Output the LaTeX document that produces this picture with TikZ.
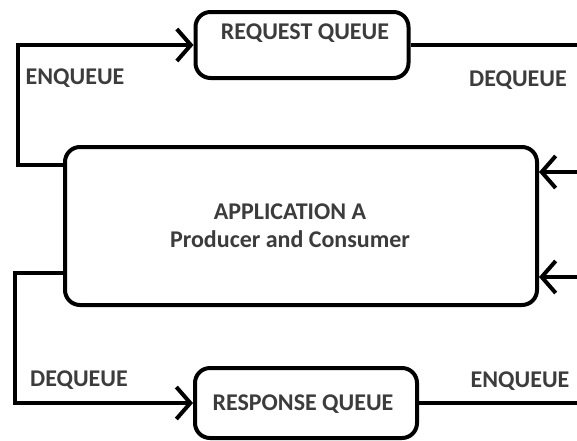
\documentclass[tikz,border=0pt]{standalone}
\usepackage{fontspec}
\setmainfont{Carlito}
\usetikzlibrary{arrows.meta}
\definecolor{txt}{HTML}{3C3C3C}
\tikzset{
  box/.style={draw=black, line width=4pt, rounded corners=15pt, fill=white},
  conn/.style={draw=black, line width=4pt},
  arr/.style={conn, -{Straight Barb[length=14pt,width=32pt,line width=4pt]}},
  lbl/.style={text=txt, font=\fontsize{24}{28}\selectfont\bfseries, inner sep=0pt},
}
\begin{document}
\begin{tikzpicture}[x=1pt,y=-1pt]
\useasboundingbox (0,0) rectangle (577,440);
\begin{scope}
\clip (0,0) rectangle (577,440);
\node[box, minimum width=213pt, minimum height=66pt] (req) at (302,45) {};
\node[lbl] (reqt) at (305,33) {REQUEST QUEUE};
\node[box, minimum width=472pt, minimum height=158pt] (app) at (301,226) {};
\node[lbl, align=center] (appt) at (290,226) {APPLICATION A\\Producer and Consumer};
\node[box, minimum width=222pt, minimum height=70pt] (resp) at (306,403) {};
\node[lbl] (respt) at (303,404) {RESPONSE QUEUE};
\coordinate (rqe) at (577,45);
\coordinate (ain1) at (577,172);
\coordinate (ain2) at (577,277);
\coordinate (rse) at (577,403);
\draw[arr] (app.west |- 0,165) -- (18,165) |- (req.west);
\draw[conn] (req.east) -- (rqe);
\draw[arr] (ain1) -- (app.east |- ain1);
\draw[arr] (app.west |- 0,273) -- (15,273) |- (resp.west);
\draw[conn] (resp.east) -- (rse);
\draw[arr] (ain2) -- (app.east |- ain2);
\end{scope}
\node[lbl] (l1) at (75,78) {ENQUEUE};
\node[lbl] (l2) at (518,80) {DEQUEUE};
\node[lbl] (l3) at (79,380) {DEQUEUE};
\node[lbl] (l4) at (520,381) {ENQUEUE};
\end{tikzpicture}
\end{document}
